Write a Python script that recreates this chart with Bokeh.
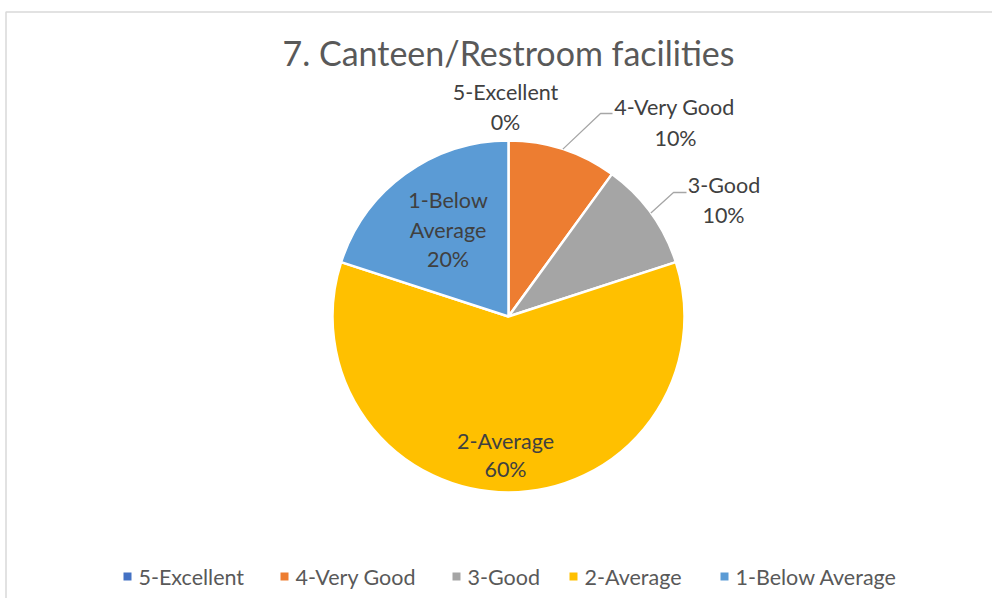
import math
from bokeh.plotting import figure
from bokeh.models import Range1d
from bokeh.core.properties import value
from bokeh.embed import file_html
from bokeh.resources import INLINE

# ---- data ----
categories = ["5-Excellent", "4-Very Good", "3-Good", "2-Average", "1-Below Average"]
percents = [0, 10, 10, 60, 20]
colors = ["#4472C4", "#ED7D31", "#A5A5A5", "#FFC000", "#5B9BD5"]
title_text = "7. Canteen/Restroom facilities"

# ---- layout ----
FONT = value("Lato")
TXT = "#595959"
LBL = "#404040"
CX, CY, R = 508, 316, 176

p = figure(width=992, height=598, x_range=Range1d(0, 992), y_range=Range1d(-598, 0),
           output_backend="svg", toolbar_location=None, min_border=0)
p.axis.visible = False
p.grid.visible = False
p.outline_line_color = None
p.background_fill_color = "white"

# chart border
p.quad(left=[5.5], right=[1010], top=[-11.5], bottom=[-620], fill_color=None,
       line_color="#d9d9d9", line_width=1.5)

# title
p.text(x=[508], y=[-52], text=[title_text], text_font=FONT, text_font_size="34px",
       text_color=TXT, text_align="center", text_baseline="middle")

# pie slices (clockwise from 12 o'clock)
total = sum(percents)
cum = 0.0
starts, ends, mids = [], [], []
for v in percents:
    a0 = cum / total
    cum += v
    a1 = cum / total
    starts.append(math.pi / 2 - a1 * 2 * math.pi)
    ends.append(math.pi / 2 - a0 * 2 * math.pi)
    mids.append((a0 + a1) / 2 * 2 * math.pi)

p.wedge(x=[CX] * len(percents), y=[-CY] * len(percents), radius=R,
        start_angle=starts, end_angle=ends, direction="anticlock",
        fill_color=colors, line_color="white", line_width=2.5)

# data label centres
label_pos = {
    0: [(505, 91), (505, 121)],
    1: [(674, 106.5), (675, 137)],
    2: [(723.5, 184.5), (723, 214.5)],
    3: [(505, 440), (505, 468)],
    4: [(447.5, 199.5), (447.5, 229.5), (447.5, 258)],
}
for i, pos in label_pos.items():
    if i == 4:
        lines = ["1-Below", "Average", f"{percents[i]}%"]
    else:
        lines = [categories[i], f"{percents[i]}%"]
    p.text(x=[q[0] for q in pos], y=[-q[1] for q in pos], text=lines, text_font=FONT,
           text_font_size="21.5px", text_color=LBL, text_align="center",
           text_baseline="middle")

# leader lines
leaders = {1: [(600, 113), (612, 113)], 2: [(673, 192), (686, 192)]}
for i, pts in leaders.items():
    sx = CX + R * math.sin(mids[i])
    sy = CY - R * math.cos(mids[i])
    xs = [sx] + [q[0] for q in pts]
    ys = [-sy] + [-q[1] for q in pts]
    p.line(xs, ys, line_color="#a6a6a6", line_width=1.3)

# legend
leg_x = [127, 284, 456, 573, 724]
LY = 576
p.rect(x=leg_x, y=[-LY] * 5, width=8, height=8, fill_color=colors, line_color=None)
p.text(x=[x + 11 for x in leg_x], y=[-LY] * 5, text=categories, text_font=FONT,
       text_font_size="21.5px", text_color=TXT, text_align="left",
       text_baseline="middle")

open("out.html", "w").write(file_html(p, INLINE))
